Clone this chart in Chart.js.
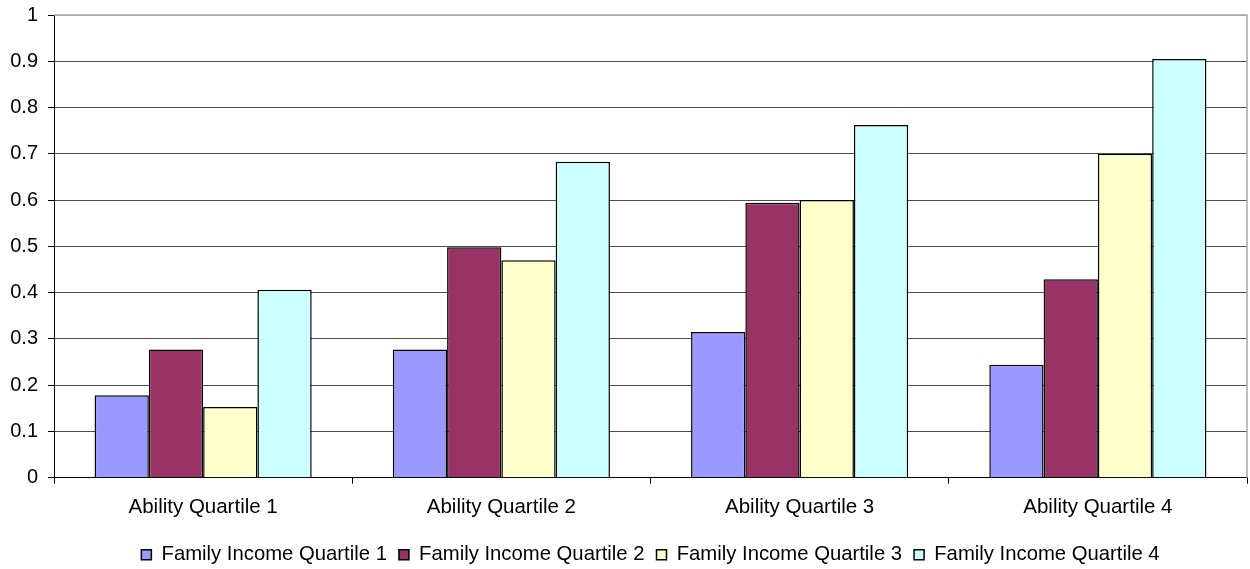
<!DOCTYPE html>
<html>
<head>
<meta charset="utf-8">
<script src="https://cdn.jsdelivr.net/npm/chart.js@4/dist/chart.umd.min.js"></script>
<style>
  html, body { margin: 0; padding: 0; background: #ffffff; }
  #wrap { width: 1250px; height: 569px; }
</style>
</head>
<body>
<div id="wrap"><canvas id="c" width="1250" height="569"></canvas></div>
<script>
const categories = ['Ability Quartile 1', 'Ability Quartile 2', 'Ability Quartile 3', 'Ability Quartile 4'];
const seriesNames = ['Family Income Quartile 1', 'Family Income Quartile 2', 'Family Income Quartile 3', 'Family Income Quartile 4'];
const incomeQ1 = [0.178, 0.277, 0.315, 0.244];
const incomeQ2 = [0.277, 0.498, 0.594, 0.429];
const incomeQ3 = [0.153, 0.470, 0.600, 0.700];
const incomeQ4 = [0.406, 0.683, 0.762, 0.905];
const seriesColors = ['#9999FF', '#993366', '#FFFFCC', '#CCFFFF'];

const FONT = '"Liberation Sans", Arial, sans-serif';
const allSeries = [incomeQ1, incomeQ2, incomeQ3, incomeQ4];

const frame = {
  id: 'frame',
  afterLayout(chart) {
    // centre the legend on the plot area, as in the original
    const lg = chart.legend, a = chart.chartArea;
    if (lg && a) {
      const shift = (a.left + a.right) / 2 - (lg.left + lg.right) / 2;
      lg.left += shift;
      lg.right += shift;
    }
  },
  afterDraw(chart) {
    const {ctx, chartArea: a} = chart;
    ctx.save();
    ctx.strokeStyle = '#a6a6a6';
    ctx.lineWidth = 1.5;
    ctx.beginPath();
    ctx.moveTo(a.left, a.top);
    ctx.lineTo(a.right, a.top);
    ctx.lineTo(a.right, a.bottom);
    ctx.stroke();
    ctx.restore();
  }
};

new Chart(document.getElementById('c'), {
  type: 'bar',
  data: {
    labels: categories,
    datasets: allSeries.map((vals, i) => ({
      label: seriesNames[i],
      data: vals,
      backgroundColor: seriesColors[i],
      borderColor: '#000000',
      borderWidth: 1.5,
      categoryPercentage: 0.728,
      barPercentage: 1.0
    }))
  },
  options: {
    responsive: false,
    animation: false,
    layout: { padding: { top: 15, right: 3, left: 0, bottom: -6 } },
    plugins: {
      title: { display: false },
      tooltip: { enabled: false },
      legend: {
        position: 'bottom',
        labels: {
          font: { family: FONT, size: 20.3 },
          color: '#000',
          boxWidth: 10,
          boxHeight: 10,
          padding: 12
        }
      }
    },
    scales: {
      x: {
        afterFit(scale) { scale.height = 55; },
        grid: { drawOnChartArea: false, drawTicks: true, tickLength: 6, tickColor: '#000', color: '#000' },
        border: { color: '#000', width: 1 },
        ticks: { font: { family: FONT, size: 20.5 }, color: '#000', padding: 11, maxRotation: 0 }
      },
      y: {
        min: 0, max: 1,
        afterFit(scale) { scale.width = 54; scale.paddingTop = 0; },
        ticks: {
          stepSize: 0.1,
          font: { family: FONT, size: 20 },
          color: '#000',
          padding: 10,
          callback: v => String(Math.round(v * 10) / 10)
        },
        grid: {
          color: c => (c.tick && Math.abs(c.tick.value - 1) < 1e-9) ? '#a6a6a6' : '#4d4d4d',
          lineWidth: 1,
          tickLength: 6,
          tickColor: '#000'
        },
        border: { color: '#000', width: 1 }
      }
    }
  },
  plugins: [frame]
});
</script>
</body>
</html>
